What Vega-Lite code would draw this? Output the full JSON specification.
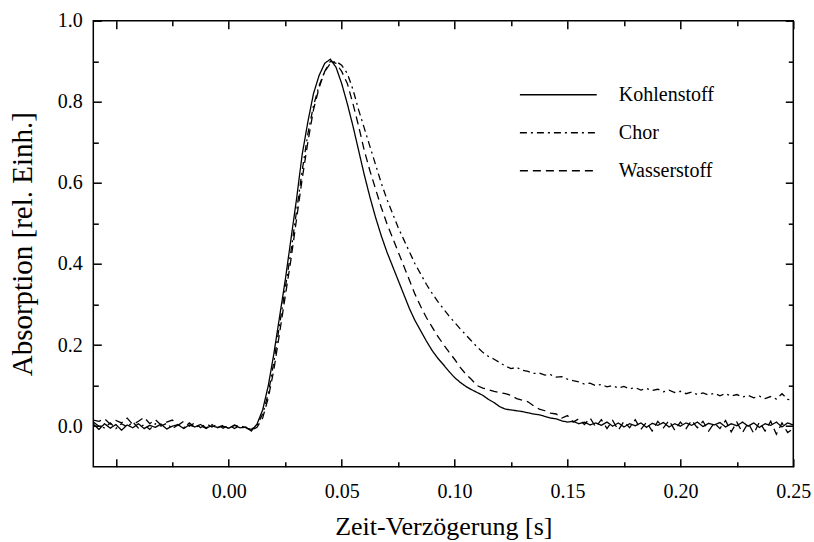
{
  "$schema": "https://vega.github.io/schema/vega-lite/v6.json",
  "width": 700,
  "height": 446,
  "autosize": "none",
  "padding": {"left": 93.3, "top": 20.7, "right": 20.7, "bottom": 75.3},
  "background": "white",
  "config": {
    "font": "Liberation Serif",
    "view": {"stroke": "black", "strokeWidth": 1.5},
    "axis": {"labelFont": "Liberation Serif", "titleFont": "Liberation Serif", "labelColor": "black", "titleColor": "black", "tickColor": "black", "titleFontWeight": "normal", "grid": false, "domain": false}
  },
  "data": {
    "values": [
      {"t": -0.06, "Kohlenstoff": 0.005, "Chor": 0.010, "Wasserstoff": 0.015},
      {"t": -0.0575, "Kohlenstoff": -0.008, "Chor": 0.000, "Wasserstoff": 0.012},
      {"t": -0.055, "Kohlenstoff": 0.006, "Chor": -0.004, "Wasserstoff": 0.018},
      {"t": -0.0525, "Kohlenstoff": -0.005, "Chor": 0.008, "Wasserstoff": 0.005},
      {"t": -0.05, "Kohlenstoff": 0.004, "Chor": -0.006, "Wasserstoff": 0.014},
      {"t": -0.0475, "Kohlenstoff": -0.010, "Chor": 0.006, "Wasserstoff": 0.008},
      {"t": -0.045, "Kohlenstoff": 0.003, "Chor": -0.002, "Wasserstoff": 0.020},
      {"t": -0.0425, "Kohlenstoff": -0.004, "Chor": 0.010, "Wasserstoff": 0.004},
      {"t": -0.04, "Kohlenstoff": 0.006, "Chor": -0.005, "Wasserstoff": 0.012},
      {"t": -0.0375, "Kohlenstoff": -0.006, "Chor": 0.004, "Wasserstoff": 0.022},
      {"t": -0.035, "Kohlenstoff": 0.002, "Chor": -0.008, "Wasserstoff": 0.006},
      {"t": -0.0325, "Kohlenstoff": -0.003, "Chor": 0.006, "Wasserstoff": 0.016},
      {"t": -0.03, "Kohlenstoff": 0.005, "Chor": 0.000, "Wasserstoff": 0.003},
      {"t": -0.0275, "Kohlenstoff": -0.007, "Chor": 0.007, "Wasserstoff": 0.010},
      {"t": -0.025, "Kohlenstoff": 0.000, "Chor": -0.006, "Wasserstoff": 0.015},
      {"t": -0.0225, "Kohlenstoff": 0.004, "Chor": 0.003, "Wasserstoff": 0.002},
      {"t": -0.02, "Kohlenstoff": -0.006, "Chor": -0.004, "Wasserstoff": 0.012},
      {"t": -0.0175, "Kohlenstoff": 0.003, "Chor": 0.008, "Wasserstoff": 0.000},
      {"t": -0.015, "Kohlenstoff": -0.002, "Chor": -0.003, "Wasserstoff": 0.008},
      {"t": -0.0125, "Kohlenstoff": 0.004, "Chor": 0.002, "Wasserstoff": -0.004},
      {"t": -0.01, "Kohlenstoff": -0.004, "Chor": -0.006, "Wasserstoff": 0.006},
      {"t": -0.0075, "Kohlenstoff": 0.001, "Chor": 0.004, "Wasserstoff": -0.002},
      {"t": -0.005, "Kohlenstoff": -0.003, "Chor": -0.004, "Wasserstoff": 0.004},
      {"t": -0.0025, "Kohlenstoff": 0.000, "Chor": 0.002, "Wasserstoff": -0.005},
      {"t": 0.0, "Kohlenstoff": -0.005, "Chor": -0.006, "Wasserstoff": 0.003},
      {"t": 0.0025, "Kohlenstoff": 0.002, "Chor": 0.003, "Wasserstoff": -0.006},
      {"t": 0.005, "Kohlenstoff": -0.004, "Chor": -0.002, "Wasserstoff": 0.002},
      {"t": 0.0075, "Kohlenstoff": -0.002, "Chor": -0.005, "Wasserstoff": -0.004},
      {"t": 0.01, "Kohlenstoff": -0.012, "Chor": -0.008, "Wasserstoff": -0.010},
      {"t": 0.0125, "Kohlenstoff": 0.005, "Chor": 0.002, "Wasserstoff": -0.003},
      {"t": 0.015, "Kohlenstoff": 0.04, "Chor": 0.03, "Wasserstoff": 0.02},
      {"t": 0.0175, "Kohlenstoff": 0.10, "Chor": 0.08, "Wasserstoff": 0.07},
      {"t": 0.02, "Kohlenstoff": 0.18, "Chor": 0.16, "Wasserstoff": 0.14},
      {"t": 0.0225, "Kohlenstoff": 0.27, "Chor": 0.25, "Wasserstoff": 0.23},
      {"t": 0.025, "Kohlenstoff": 0.36, "Chor": 0.34, "Wasserstoff": 0.32},
      {"t": 0.0275, "Kohlenstoff": 0.46, "Chor": 0.43, "Wasserstoff": 0.41},
      {"t": 0.03, "Kohlenstoff": 0.56, "Chor": 0.53, "Wasserstoff": 0.51},
      {"t": 0.0325, "Kohlenstoff": 0.67, "Chor": 0.63, "Wasserstoff": 0.61},
      {"t": 0.035, "Kohlenstoff": 0.75, "Chor": 0.72, "Wasserstoff": 0.70},
      {"t": 0.0375, "Kohlenstoff": 0.82, "Chor": 0.79, "Wasserstoff": 0.78},
      {"t": 0.04, "Kohlenstoff": 0.865, "Chor": 0.84, "Wasserstoff": 0.835},
      {"t": 0.0425, "Kohlenstoff": 0.895, "Chor": 0.875, "Wasserstoff": 0.875},
      {"t": 0.045, "Kohlenstoff": 0.905, "Chor": 0.895, "Wasserstoff": 0.90},
      {"t": 0.0475, "Kohlenstoff": 0.885, "Chor": 0.90, "Wasserstoff": 0.895},
      {"t": 0.05, "Kohlenstoff": 0.845, "Chor": 0.89, "Wasserstoff": 0.875},
      {"t": 0.0525, "Kohlenstoff": 0.795, "Chor": 0.87, "Wasserstoff": 0.845},
      {"t": 0.055, "Kohlenstoff": 0.74, "Chor": 0.83, "Wasserstoff": 0.795},
      {"t": 0.0575, "Kohlenstoff": 0.68, "Chor": 0.78, "Wasserstoff": 0.74},
      {"t": 0.06, "Kohlenstoff": 0.62, "Chor": 0.735, "Wasserstoff": 0.68},
      {"t": 0.0625, "Kohlenstoff": 0.565, "Chor": 0.69, "Wasserstoff": 0.63},
      {"t": 0.065, "Kohlenstoff": 0.515, "Chor": 0.645, "Wasserstoff": 0.585},
      {"t": 0.0675, "Kohlenstoff": 0.47, "Chor": 0.60, "Wasserstoff": 0.54},
      {"t": 0.07, "Kohlenstoff": 0.43, "Chor": 0.56, "Wasserstoff": 0.50},
      {"t": 0.0725, "Kohlenstoff": 0.395, "Chor": 0.525, "Wasserstoff": 0.465},
      {"t": 0.075, "Kohlenstoff": 0.36, "Chor": 0.49, "Wasserstoff": 0.43},
      {"t": 0.0775, "Kohlenstoff": 0.325, "Chor": 0.46, "Wasserstoff": 0.395},
      {"t": 0.08, "Kohlenstoff": 0.29, "Chor": 0.43, "Wasserstoff": 0.36},
      {"t": 0.0825, "Kohlenstoff": 0.26, "Chor": 0.40, "Wasserstoff": 0.325},
      {"t": 0.085, "Kohlenstoff": 0.235, "Chor": 0.375, "Wasserstoff": 0.295},
      {"t": 0.0875, "Kohlenstoff": 0.21, "Chor": 0.35, "Wasserstoff": 0.268},
      {"t": 0.09, "Kohlenstoff": 0.187, "Chor": 0.328, "Wasserstoff": 0.245},
      {"t": 0.0925, "Kohlenstoff": 0.168, "Chor": 0.308, "Wasserstoff": 0.222},
      {"t": 0.095, "Kohlenstoff": 0.152, "Chor": 0.29, "Wasserstoff": 0.202},
      {"t": 0.0975, "Kohlenstoff": 0.135, "Chor": 0.272, "Wasserstoff": 0.183},
      {"t": 0.1, "Kohlenstoff": 0.12, "Chor": 0.256, "Wasserstoff": 0.165},
      {"t": 0.1025, "Kohlenstoff": 0.108, "Chor": 0.24, "Wasserstoff": 0.145},
      {"t": 0.105, "Kohlenstoff": 0.098, "Chor": 0.225, "Wasserstoff": 0.128},
      {"t": 0.1075, "Kohlenstoff": 0.090, "Chor": 0.21, "Wasserstoff": 0.115},
      {"t": 0.11, "Kohlenstoff": 0.083, "Chor": 0.195, "Wasserstoff": 0.10},
      {"t": 0.1125, "Kohlenstoff": 0.076, "Chor": 0.182, "Wasserstoff": 0.094},
      {"t": 0.115, "Kohlenstoff": 0.066, "Chor": 0.172, "Wasserstoff": 0.090},
      {"t": 0.1175, "Kohlenstoff": 0.058, "Chor": 0.165, "Wasserstoff": 0.086},
      {"t": 0.12, "Kohlenstoff": 0.048, "Chor": 0.157, "Wasserstoff": 0.083},
      {"t": 0.1225, "Kohlenstoff": 0.042, "Chor": 0.148, "Wasserstoff": 0.080},
      {"t": 0.125, "Kohlenstoff": 0.040, "Chor": 0.142, "Wasserstoff": 0.076},
      {"t": 0.1275, "Kohlenstoff": 0.038, "Chor": 0.145, "Wasserstoff": 0.068},
      {"t": 0.13, "Kohlenstoff": 0.036, "Chor": 0.138, "Wasserstoff": 0.064},
      {"t": 0.1325, "Kohlenstoff": 0.033, "Chor": 0.135, "Wasserstoff": 0.060},
      {"t": 0.135, "Kohlenstoff": 0.030, "Chor": 0.130, "Wasserstoff": 0.050},
      {"t": 0.1375, "Kohlenstoff": 0.028, "Chor": 0.131, "Wasserstoff": 0.042},
      {"t": 0.14, "Kohlenstoff": 0.024, "Chor": 0.126, "Wasserstoff": 0.038},
      {"t": 0.1425, "Kohlenstoff": 0.020, "Chor": 0.127, "Wasserstoff": 0.032},
      {"t": 0.145, "Kohlenstoff": 0.018, "Chor": 0.121, "Wasserstoff": 0.030},
      {"t": 0.1475, "Kohlenstoff": 0.013, "Chor": 0.122, "Wasserstoff": 0.020},
      {"t": 0.15, "Kohlenstoff": 0.010, "Chor": 0.116, "Wasserstoff": 0.026},
      {"t": 0.1525, "Kohlenstoff": 0.012, "Chor": 0.112, "Wasserstoff": 0.010},
      {"t": 0.155, "Kohlenstoff": 0.006, "Chor": 0.109, "Wasserstoff": 0.018},
      {"t": 0.1575, "Kohlenstoff": 0.010, "Chor": 0.104, "Wasserstoff": 0.004},
      {"t": 0.16, "Kohlenstoff": 0.003, "Chor": 0.106, "Wasserstoff": 0.020},
      {"t": 0.1625, "Kohlenstoff": 0.008, "Chor": 0.100, "Wasserstoff": -0.002},
      {"t": 0.165, "Kohlenstoff": 0.002, "Chor": 0.103, "Wasserstoff": 0.016},
      {"t": 0.1675, "Kohlenstoff": 0.010, "Chor": 0.097, "Wasserstoff": -0.006},
      {"t": 0.17, "Kohlenstoff": 0.000, "Chor": 0.100, "Wasserstoff": 0.014},
      {"t": 0.1725, "Kohlenstoff": 0.008, "Chor": 0.094, "Wasserstoff": -0.010},
      {"t": 0.175, "Kohlenstoff": -0.002, "Chor": 0.098, "Wasserstoff": 0.012},
      {"t": 0.1775, "Kohlenstoff": 0.006, "Chor": 0.092, "Wasserstoff": -0.004},
      {"t": 0.18, "Kohlenstoff": 0.001, "Chor": 0.095, "Wasserstoff": 0.016},
      {"t": 0.1825, "Kohlenstoff": 0.008, "Chor": 0.089, "Wasserstoff": -0.008},
      {"t": 0.185, "Kohlenstoff": -0.003, "Chor": 0.093, "Wasserstoff": 0.010},
      {"t": 0.1875, "Kohlenstoff": 0.007, "Chor": 0.088, "Wasserstoff": -0.012},
      {"t": 0.19, "Kohlenstoff": 0.002, "Chor": 0.091, "Wasserstoff": 0.012},
      {"t": 0.1925, "Kohlenstoff": 0.009, "Chor": 0.085, "Wasserstoff": -0.004},
      {"t": 0.195, "Kohlenstoff": -0.002, "Chor": 0.089, "Wasserstoff": 0.014},
      {"t": 0.1975, "Kohlenstoff": 0.006, "Chor": 0.083, "Wasserstoff": -0.010},
      {"t": 0.2, "Kohlenstoff": 0.000, "Chor": 0.086, "Wasserstoff": 0.010},
      {"t": 0.2025, "Kohlenstoff": 0.008, "Chor": 0.080, "Wasserstoff": -0.006},
      {"t": 0.205, "Kohlenstoff": 0.002, "Chor": 0.084, "Wasserstoff": 0.014},
      {"t": 0.2075, "Kohlenstoff": 0.010, "Chor": 0.078, "Wasserstoff": -0.004},
      {"t": 0.21, "Kohlenstoff": -0.001, "Chor": 0.082, "Wasserstoff": 0.012},
      {"t": 0.2125, "Kohlenstoff": 0.007, "Chor": 0.077, "Wasserstoff": -0.012},
      {"t": 0.215, "Kohlenstoff": 0.003, "Chor": 0.081, "Wasserstoff": 0.008},
      {"t": 0.2175, "Kohlenstoff": 0.009, "Chor": 0.075, "Wasserstoff": -0.006},
      {"t": 0.22, "Kohlenstoff": -0.002, "Chor": 0.080, "Wasserstoff": 0.014},
      {"t": 0.2225, "Kohlenstoff": 0.006, "Chor": 0.074, "Wasserstoff": -0.014},
      {"t": 0.225, "Kohlenstoff": 0.001, "Chor": 0.078, "Wasserstoff": 0.010},
      {"t": 0.2275, "Kohlenstoff": 0.010, "Chor": 0.072, "Wasserstoff": -0.016},
      {"t": 0.23, "Kohlenstoff": 0.000, "Chor": 0.076, "Wasserstoff": 0.008},
      {"t": 0.2325, "Kohlenstoff": 0.008, "Chor": 0.070, "Wasserstoff": -0.018},
      {"t": 0.235, "Kohlenstoff": -0.003, "Chor": 0.074, "Wasserstoff": 0.010},
      {"t": 0.2375, "Kohlenstoff": 0.006, "Chor": 0.068, "Wasserstoff": -0.012},
      {"t": 0.24, "Kohlenstoff": 0.002, "Chor": 0.073, "Wasserstoff": 0.012},
      {"t": 0.2425, "Kohlenstoff": 0.010, "Chor": 0.067, "Wasserstoff": -0.020},
      {"t": 0.245, "Kohlenstoff": -0.002, "Chor": 0.080, "Wasserstoff": 0.008},
      {"t": 0.2475, "Kohlenstoff": 0.008, "Chor": 0.066, "Wasserstoff": -0.016},
      {"t": 0.25, "Kohlenstoff": 0.003, "Chor": 0.064, "Wasserstoff": -0.006}
    ]
  },
  "transform": [
    {"fold": ["Kohlenstoff", "Chor", "Wasserstoff"], "as": ["series", "value"]}
  ],
  "layer": [
    {
      "mark": {"type": "line", "color": "black", "strokeWidth": 1.3, "clip": true},
      "encoding": {
        "x": {
          "field": "t", "type": "quantitative",
          "scale": {"domain": [-0.06, 0.25], "nice": false, "zero": false},
          "axis": {
            "orient": "bottom",
            "values": [-0.05, -0.025, 0, 0.025, 0.05, 0.075, 0.1, 0.125, 0.15, 0.175, 0.2, 0.225, 0.25],
            "tickSize": {"condition": {"test": "round(datum.value*40) % 2 == 0", "value": -8}, "value": -5},
            "tickWidth": 1.5,
            "labelExpr": "(round(datum.value*40) % 2 == 0 && datum.value > -0.001) ? format(datum.value, '.2f') : ''",
            "labelFontSize": 20,
            "labelPadding": 23,
            "labelFlush": false,
            "labelOverlap": false,
            "title": "Zeit-Verzögerung [s]",
            "titleFontSize": 26,
            "titlePadding": 9
          }
        },
        "y": {
          "field": "value", "type": "quantitative",
          "scale": {"domain": [-0.1, 1.0], "nice": false, "zero": false},
          "axis": {
            "orient": "left",
            "values": [0, 0.1, 0.2, 0.3, 0.4, 0.5, 0.6, 0.7, 0.8, 0.9, 1.0],
            "tickSize": {"condition": {"test": "round(datum.value*10) % 2 == 0", "value": -8}, "value": -5},
            "tickWidth": 1.5,
            "labelExpr": "round(datum.value*10) % 2 == 0 ? format(datum.value, '.1f') : ''",
            "labelFontSize": 20,
            "labelPadding": 19,
            "labelFlush": false,
            "labelOverlap": false,
            "title": "Absorption [rel. Einh.]",
            "titleFontSize": 29,
            "titlePadding": 20
          }
        },
        "strokeDash": {
          "field": "series", "type": "nominal",
          "scale": {"domain": ["Kohlenstoff", "Chor", "Wasserstoff"], "range": [[1, 0], [7, 4, 2, 4], [8, 5]]},
          "legend": {
            "orient": "none",
            "legendX": 455,
            "legendY": 64,
            "padding": 0,
            "title": null,
            "symbolType": "M-4.8,0H4.8",
            "symbolSize": 256,
            "symbolStrokeWidth": 1.5,
            "symbolStrokeColor": "black",
            "symbolFillColor": "transparent",
            "labelOffset": 50.5,
            "labelFont": "Liberation Serif",
            "labelFontSize": 20,
            "labelColor": "black",
            "rowPadding": 18
          }
        }
      }
    },
    {
      "mark": {"type": "line", "opacity": 0},
      "encoding": {
        "x": {
          "field": "t", "type": "quantitative",
          "axis": {
            "orient": "top",
            "values": [-0.05, -0.025, 0, 0.025, 0.05, 0.075, 0.1, 0.125, 0.15, 0.175, 0.2, 0.225, 0.25],
            "tickSize": {"condition": {"test": "round(datum.value*40) % 2 == 0", "value": -8}, "value": -5},
            "tickWidth": 1.5,
            "labels": false,
            "title": null
          }
        },
        "y": {
          "field": "value", "type": "quantitative",
          "axis": {
            "orient": "right",
            "values": [0, 0.1, 0.2, 0.3, 0.4, 0.5, 0.6, 0.7, 0.8, 0.9, 1.0],
            "tickSize": {"condition": {"test": "round(datum.value*10) % 2 == 0", "value": -8}, "value": -5},
            "tickWidth": 1.5,
            "labels": false,
            "title": null
          }
        },
        "detail": {"field": "series", "type": "nominal"}
      }
    }
  ],
  "resolve": {"axis": {"x": "independent", "y": "independent"}}
}
